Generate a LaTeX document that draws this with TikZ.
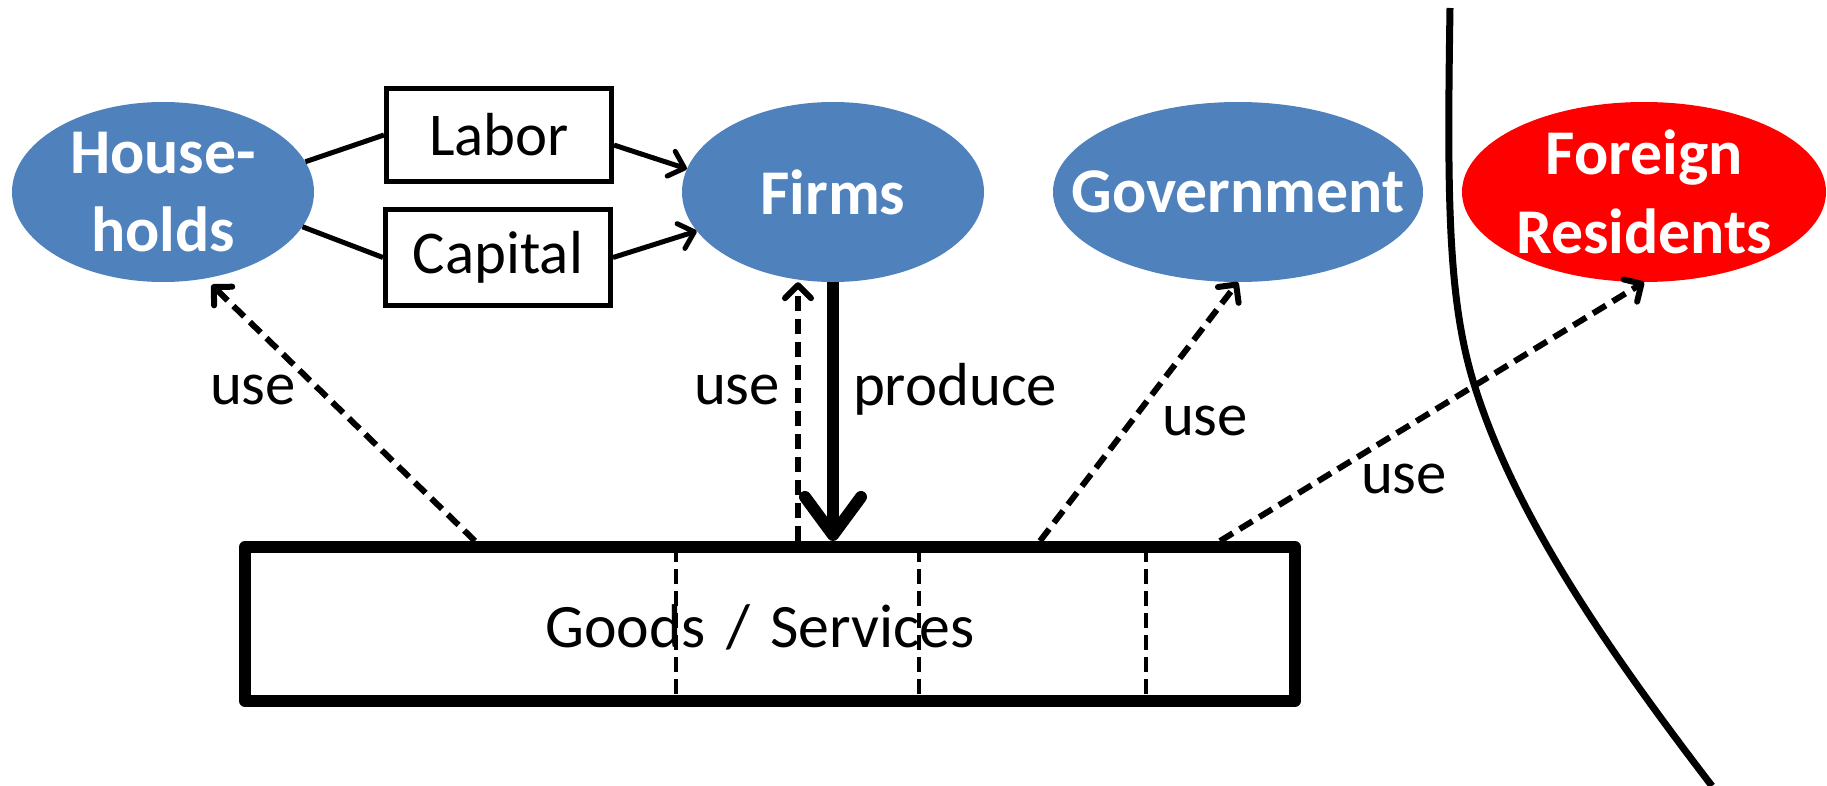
\documentclass[tikz,border=0pt]{standalone}
\usepackage{fontspec}
\setmainfont{Carlito}
\usetikzlibrary{shapes.geometric,arrows.meta}
\definecolor{actorblue}{HTML}{4F81BD}
\definecolor{foreignred}{HTML}{FF0000}
\begin{document}
\begin{tikzpicture}[x=1bp,y=-1bp,
  actor/.style={ellipse, fill=actorblue, draw=none, inner sep=0pt,
    minimum width=302bp, minimum height=180bp},
  actortext/.style={text=white, align=center, inner sep=0pt,
    font=\fontsize{64}{79}\selectfont\bfseries},
  factorbox/.style={draw, line width=5bp, rectangle, inner sep=0pt,
    minimum width=225bp, minimum height=93bp, font=\fontsize{61}{72}\selectfont},
  goodsbox/.style={draw, line width=12bp, line join=round, rectangle, inner sep=0pt,
    minimum width=1050bp, minimum height=154bp},
  goodstext/.style={font=\fontsize{62}{72}\selectfont, inner sep=0pt,
    text height=46bp, text depth=0bp},
  link/.style={line width=5bp},
  flow/.style={line width=5bp, -{Straight Barb[length=14bp,width=26bp,round]}},
  usearrow/.style={line width=6bp, dash pattern=on 15bp off 8bp,
    -{Straight Barb[length=13bp,width=26bp,round]}},
  produce/.style={line width=12bp, -{Straight Barb[length=38bp,width=56bp,round]}},
  divider/.style={line width=3.5bp, dash pattern=on 15bp off 7bp},
  border/.style={line width=7bp},
  lbl/.style={font=\fontsize{61}{72}\selectfont, anchor=base, inner sep=0pt},
]
\useasboundingbox (0,0) rectangle (1827,786);

% economic actors
\node[actor, label={[actortext]center:House-\\holds}] (hh) at (163,192) {};
\node[actor, label={[actortext]center:Firms}] (firms) at (833,192) {};
\node[actor, minimum width=370bp, label={[actortext]center:Government}] (gov) at (1238,192) {};
\node[actor, minimum width=364bp, fill=foreignred,
      label={[actortext]center:Foreign\\Residents}] (fr) at (1644,192) {};

% factors of production
\node[factorbox] (labor) at (499,135) {Labor};
\node[factorbox, minimum height=96bp] (capital) at (498,257.5) {Capital};

% goods and services market
\node[goodsbox, label={[goodstext, xshift=-10bp]center:Goods\hspace{0.33em}/\hspace{0.33em}Services}]
  (goods) at (770,624) {};
\foreach \x in {676,919,1146}
  \draw[divider] (\x,547) -- (\x,701);

\coordinate (g1) at (475,541);
\coordinate (g2) at (798,541);
\coordinate (g3) at (1040,541);
\coordinate (g4) at (1220,541);

% factor flows
\draw[link] (hh.12) -- (labor.west);
\draw[link] (hh.-14) -- (capital.west);
\draw[flow] (labor.-5) -- (firms.171);
\draw[flow] (capital.east) -- (firms.196);

% use of goods and services
\draw[usearrow, shorten >=9bp] (g1) -- (hh.-64);
\draw[usearrow] (g2) -- (firms.south -| g2);
\draw[usearrow] (g3) -- (gov.south);
\draw[usearrow] (g4) -- (fr.south);
\draw[produce] (firms.south) -- (firms.south |- goods.north);

\node[lbl] (u1) at (253,404) {use};
\node[lbl] (u2) at (737,404) {use};
\node[lbl] (pr) at (955,405) {produce};
\node[lbl] (u3) at (1205,435) {use};
\node[lbl] (u4) at (1404,493) {use};

% national border
\draw[border] (1450,8) .. controls (1447,200) and (1448,300) .. (1474,384)
  .. controls (1513,510) and (1600,640) .. (1712,786);
\end{tikzpicture}
\end{document}
